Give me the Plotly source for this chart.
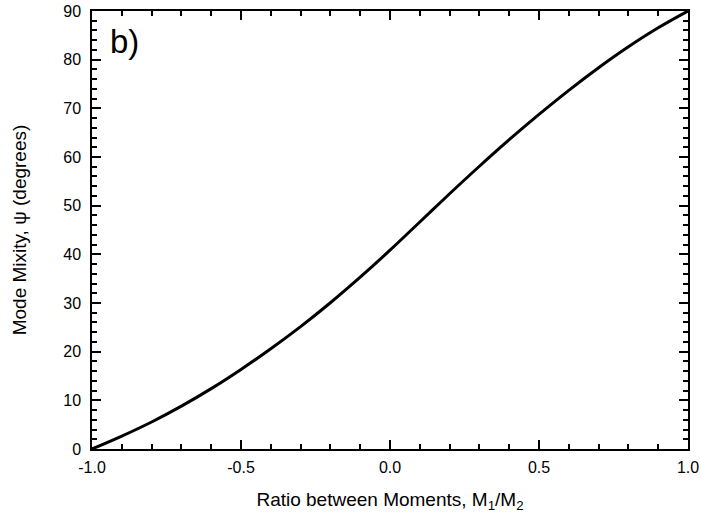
import plotly.graph_objects as go

ratio = [-1.0, -0.9, -0.8, -0.7, -0.6, -0.5, -0.4, -0.3, -0.2, -0.1, 0.0,
         0.1, 0.2, 0.3, 0.4, 0.5, 0.6, 0.7, 0.8, 0.9, 1.0]
psi = [0.0, 2.65, 5.55, 8.8, 12.4, 16.35, 20.6, 25.15, 30.05, 35.3, 40.85,
       46.65, 52.45, 58.1, 63.55, 68.75, 73.7, 78.35, 82.65, 86.55, 90.0]

x_tickvals = [-1.0, -0.5, 0.0, 0.5, 1.0]
x_ticktext = ["-1.0", "-0.5", "0.0", "0.5", "1.0"]
y_tickvals = [0, 10, 20, 30, 40, 50, 60, 70, 80, 90]
y_ticktext = ["0", "10", "20", "30", "40", "50", "60", "70", "80", "90"]

font = "Liberation Sans, Arial, sans-serif"

fig = go.Figure()
fig.add_trace(go.Scatter(
    x=ratio, y=psi, mode="lines",
    line=dict(color="black", width=3, shape="spline", smoothing=1.0),
    showlegend=False, hoverinfo="skip"))

axis_common = dict(
    showgrid=False, zeroline=False, automargin=False,
    showline=True, linecolor="black", linewidth=1.5,
    mirror="allticks", ticks="inside", ticklen=9, tickwidth=1.5, tickcolor="black",
    tickfont=dict(family=font, size=16, color="black"),
)

fig.update_xaxes(
    range=[-1.0, 1.0], tickvals=x_tickvals, ticktext=x_ticktext,
    ticklabelstandoff=3,
    minor=dict(dtick=0.1, ticks="inside", ticklen=5, tickwidth=1.5, tickcolor="black"),
    title=dict(text="Ratio between Moments, M<sub>1</sub>/M<sub>2</sub>",
               font=dict(family=font, size=19, color="black"), standoff=18),
    **axis_common)
fig.update_yaxes(
    range=[0, 90], tickvals=y_tickvals, ticktext=y_ticktext,
    ticklabelstandoff=6,
    minor=dict(dtick=2, ticks="inside", ticklen=5, tickwidth=1.5, tickcolor="black"),
    title=dict(text="Mode Mixity, ψ (degrees)",
               font=dict(family=font, size=19, color="black"), standoff=32),
    **axis_common)

fig.add_annotation(
    text="b)", xref="paper", yref="paper", x=0.027, y=0.977,
    xanchor="left", yanchor="top", showarrow=False,
    font=dict(family=font, size=33, color="black"))

fig.update_layout(
    width=701, height=523,
    margin=dict(l=92, r=13, t=11, b=74),
    paper_bgcolor="white", plot_bgcolor="white",
)

fig.write_html("out.html", config={"displayModeBar": False},
               post_script="document.body.style.margin='0';")
